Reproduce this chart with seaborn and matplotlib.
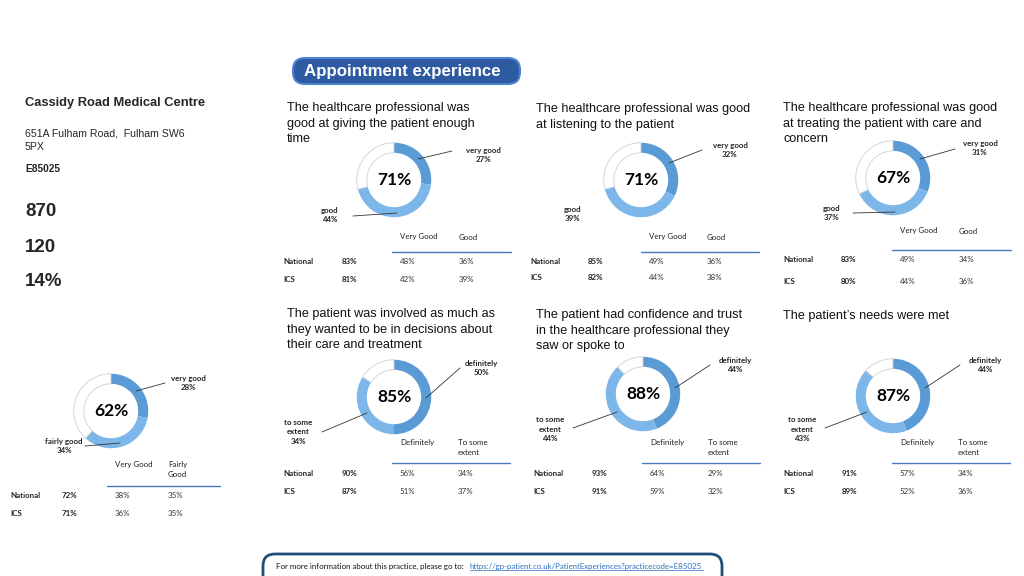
import matplotlib
matplotlib.use("Agg")
import matplotlib.pyplot as plt
from matplotlib.patches import FancyBboxPatch
import seaborn as sns

sns.set_theme(style="white")
plt.rcParams['font.family'] = ['Liberation Sans', 'DejaVu Sans']

# ---------------- data ----------------
practice_name = "Cassidy Road Medical Centre"
practice_address = ["651A Fulham Road,  Fulham SW6", "5PX"]
practice_code = "E85025"
key_numbers = ["870", "120", "14%"]

titles = [
    "The healthcare professional was\ngood at giving the patient enough\ntime",
    "The healthcare professional was good\nat listening to the patient",
    "The healthcare professional was good\nat treating the patient with care and\nconcern",
    "",
    "The patient was involved as much as\nthey wanted to be in decisions about\ntheir care and treatment",
    "The patient had confidence and trust\nin the healthcare professional they\nsaw or spoke to",
    "The patient\u2019s needs were met",
]
center_pct = [71, 71, 67, 62, 85, 88, 87]
first_pct = [27, 32, 31, 28, 50, 44, 44]
second_pct = [44, 39, 37, 34, 34, 44, 43]
first_names = ["very good", "very good", "very good", "very good", "definitely", "definitely", "definitely"]
second_names = ["good", "good", "good", "fairly good", "to some\nextent", "to some\nextent", "to some\nextent"]
col_first = ["Very Good", "Very Good", "Very Good", "Very Good", "Definitely", "Definitely", "Definitely"]
col_second = ["Good", "Good", "Good", "Fairly\nGood", "To some\nextent", "To some\nextent", "To some\nextent"]
national_total = [83, 85, 83, 72, 90, 93, 91]
national_first = [48, 49, 49, 38, 56, 64, 57]
national_second = [36, 36, 34, 35, 34, 29, 34]
ics_total = [81, 82, 80, 71, 87, 91, 89]
ics_first = [42, 44, 44, 36, 51, 59, 52]
ics_second = [39, 38, 36, 35, 37, 32, 36]

footer_text = "For more information about this practice, please go to:"
footer_link = "https://gp-patient.co.uk/PatientExperiences?practicecode=E85025"

# ---------------- layout (pixels) ----------------
W, H = 1024, 576
donut_centre = [(394, 180), (641, 180), (893, 178), (111, 411), (394, 397), (643, 394), (893, 396)]
R = 38
title_pos = [(287, 111), (536, 112), (783, 111), None, (287, 317), (536, 318), (783, 319)]  # first baseline
title_step = 15.7
lab1_pos = [(483, 155), (730, 150), (980, 148), (188, 383), (481, 368), (735, 365), (985, 365)]
lab2_pos = [(330, 215), (573, 214), (832, 213), (64, 446), (298, 432), (550, 429), (802, 429)]
line1 = [((452, 151), (418, 159)), ((702, 150), (669, 163)), ((955, 149), (920, 159)), ((165, 383), (136, 391)),
         ((460, 368), (426, 398)), ((710, 365), (675, 388)), ((960, 365), (925, 388))]
line2 = [((353, 216), (397, 213)), None, ((853, 213), (895, 212)), ((85, 446), (120, 443)),
         ((322, 432), (367, 413)), ((573, 428), (617, 412)), ((825, 428), (867, 412))]
# table: x of row label, total, col1, col2 ; y of header, rule, national, ics
table_x = [(283, 342, 400, 459), (530, 588, 649, 707), (783, 841, 900, 959), (10, 62, 115, 168),
           (283, 342, 400, 458), (533, 592, 650, 708), (783, 842, 900, 958)]
table_y = [(237, 252, 261, 279), (237, 252, 261, 278), (231, 250, 259, 281), (466, 486, 496, 514),
           (444, 463, 473, 491), (444, 463, 473, 491), (444, 463, 473, 491)]

pal = sns.color_palette(["#5B9BD5", "#7DB7E9"])
dark_c, light_c = pal[0], pal[1]
rule_c = "#4A78C0"
small_font = ['Lato', 'DejaVu Sans']
fs_small = 5.7

fig = plt.figure(figsize=(W / 100, H / 100), dpi=100)
fig.patch.set_facecolor("white")

# donuts
for i, (cx, cy) in enumerate(donut_centre):
    ax = fig.add_axes([(cx - R) / W, 1 - (cy + R) / H, 2 * R / W, 2 * R / H])
    rest = max(0, 100 - first_pct[i] - second_pct[i])
    wedges, _ = ax.pie([first_pct[i], second_pct[i], rest], colors=[dark_c, light_c, "white"],
                       startangle=90, counterclock=False,
                       wedgeprops=dict(width=0.27, linewidth=0))
    wedges[2].set_edgecolor("#D0D0D0")
    wedges[2].set_linewidth(0.6)
    ax.set_xlim(-1.02, 1.02)
    ax.set_ylim(-1.02, 1.02)
    ax.set_aspect("equal")
    ax.axis("off")
    ax.text(0, 0, f"{center_pct[i]}%", ha="center", va="center", fontsize=12.5,
            fontweight="bold", family=small_font, color="black")

# overlay
ov = fig.add_axes([0, 0, 1, 1])
ov.set_xlim(0, W)
ov.set_ylim(H, 0)
ov.axis("off")
ov.patch.set_alpha(0)

# header
ov.add_patch(FancyBboxPatch((293, 58), 227, 26, boxstyle="round,pad=0,rounding_size=12",
                            facecolor="#2E5AA2", edgecolor="#4D82CF", linewidth=1.5))
ov.text(402, 71.5, "Appointment experience", ha="center", va="center", color="white",
        fontsize=12.2, fontweight="bold")

# left practice info
ov.text(25, 103, practice_name, ha="left", va="center", fontsize=9.3, fontweight="bold")
ov.text(25, 133, practice_address[0], ha="left", va="center", fontsize=7.6)
ov.text(25, 147, practice_address[1], ha="left", va="center", fontsize=7.6)
ov.text(25, 169, practice_code, ha="left", va="center", fontsize=7.4, fontweight="bold")
for k, y in zip(key_numbers, [212, 248, 282]):
    ov.text(25, y, k, ha="left", va="center", fontsize=13.5, fontweight="bold")

for i in range(len(center_pct)):
    if title_pos[i] is not None:
        for j, line in enumerate(titles[i].split("\n")):
            ov.text(title_pos[i][0], title_pos[i][1] + j * title_step, line, ha="left",
                    va="baseline", fontsize=9.1, color="#111111")
    ov.text(*lab1_pos[i], f"{first_names[i]}\n{first_pct[i]}%", ha="center", va="center",
            fontsize=fs_small, fontweight="bold", family=small_font, linespacing=1.4)
    ov.text(*lab2_pos[i], f"{second_names[i]}\n{second_pct[i]}%", ha="center", va="center",
            fontsize=fs_small, fontweight="bold", family=small_font, linespacing=1.4)
    (a, b) = line1[i]
    ov.plot([a[0], b[0]], [a[1], b[1]], color="#333333", lw=0.6)
    if line2[i] is not None:
        (a, b) = line2[i]
        ov.plot([a[0], b[0]], [a[1], b[1]], color="#333333", lw=0.6)
    # table
    xl, xt, x1, x2 = table_x[i]
    yh, yr, yn, yi = table_y[i]
    two_line = "\n" in col_second[i]
    vy = yh - 5 if two_line else yh
    ov.text(x1, vy, col_first[i], ha="left", va="top" if two_line else "center",
            fontsize=fs_small, family=small_font, color="#222222", linespacing=1.5)
    ov.text(x2, vy, col_second[i], ha="left", va="top" if two_line else "center",
            fontsize=fs_small, family=small_font, color="#222222", linespacing=1.5)
    ov.plot([x1 - 8, x2 + 52], [yr, yr], color=rule_c, lw=1.0)
    for y, name, tot, f, s in [(yn, "National", national_total[i], national_first[i], national_second[i]),
                               (yi, "ICS", ics_total[i], ics_first[i], ics_second[i])]:
        ov.text(xl, y, name, ha="left", va="center", fontsize=fs_small, fontweight="bold", family=small_font)
        ov.text(xt, y, f"{tot}%", ha="left", va="center", fontsize=fs_small, fontweight="bold", family=small_font)
        ov.text(x1, y, f"{f}%", ha="left", va="center", fontsize=fs_small, family=small_font, color="#333333")
        ov.text(x2, y, f"{s}%", ha="left", va="center", fontsize=fs_small, family=small_font, color="#333333")

# footer
ov.add_patch(FancyBboxPatch((263, 554), 459, 40, boxstyle="round,pad=0,rounding_size=12",
                            facecolor="none", edgecolor="#1F4E79", linewidth=2, clip_on=False))
ov.text(276, 566, footer_text, ha="left", va="center", fontsize=5.7, family=small_font, color="#111111")
ov.text(470, 566, footer_link, ha="left", va="center", fontsize=5.7, family=small_font, color="#2E6FC0")
ov.plot([470, 703], [569.8, 569.8], color="#2E6FC0", lw=0.5)

fig.savefig("out.png", dpi=100)
